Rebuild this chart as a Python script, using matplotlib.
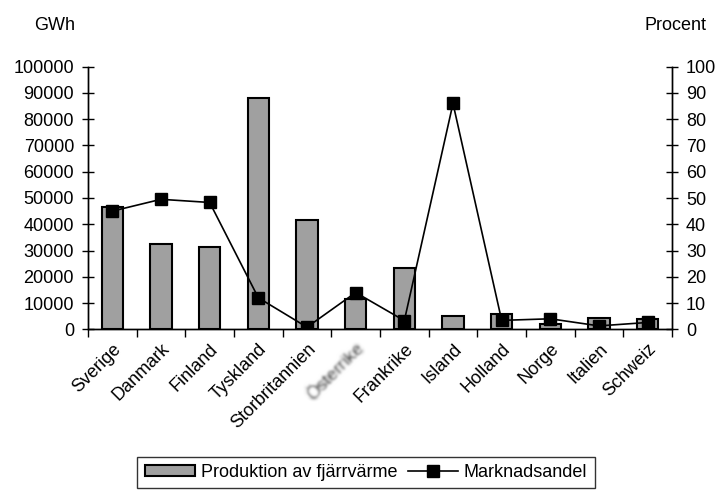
import matplotlib
matplotlib.use("Agg")
import matplotlib.pyplot as plt
import numpy as np

plt.rcParams['font.family'] = ['Liberation Sans', 'DejaVu Sans']
plt.rcParams['font.size'] = 13

countries = ['Sverige', 'Danmark', 'Finland', 'Tyskland', 'Storbritannien',
             'Österrike', 'Frankrike', 'Island', 'Holland', 'Norge',
             'Italien', 'Schweiz']
produktion_gwh = [46500, 32600, 31200, 88000, 41500, 11500,
                  23300, 5200, 5800, 1900, 4400, 3800]
marknadsandel = [45, 49.5, 48.3, 12, 0.8, 14, 3.3, 86, 3.4, 4, 1.3, 2.6]
gwh_ticks = list(range(0, 100001, 10000))
pct_ticks = list(range(0, 101, 10))


def gauss_blur(img, dpi, radius=1.6):
    # soft blur for a single text artist
    r = int(np.ceil(radius * 3))
    k = np.exp(-0.5 * (np.arange(-r, r + 1) / radius) ** 2)
    k /= k.sum()
    pad = np.pad(img, ((r * 2, r * 2), (r * 2, r * 2), (0, 0)))
    out = np.apply_along_axis(lambda m: np.convolve(m, k, mode='same'), 0, pad)
    out = np.apply_along_axis(lambda m: np.convolve(m, k, mode='same'), 1, out)
    out[..., 3] = np.clip(out[..., 3] * 1.3, 0, 1)
    return out, -r * 2, -r * 2


fig = plt.figure(figsize=(7.17, 4.9), dpi=100)
ax = fig.add_axes([88 / 717, 1 - 329.3 / 490, 584 / 717, 262.6 / 490])
ax2 = ax.twinx()

x = np.arange(len(countries))
bars = ax.bar(x, produktion_gwh, width=0.44, color='#a0a0a0',
              edgecolor='black', linewidth=1.5, label='Produktion av fjärrvärme')
line, = ax2.plot(x, marknadsandel, color='black', linewidth=1.2, marker='s',
                 markersize=8.5, label='Marknadsandel')

ax.set_xlim(-0.5, len(countries) - 0.5)
ax.set_ylim(0, 100000)
ax2.set_ylim(0, 100)
ax.set_yticks(gwh_ticks)
ax2.set_yticks(pct_ticks)

for a in (ax, ax2):
    a.spines['top'].set_visible(False)
    for s in a.spines.values():
        s.set_linewidth(1.0)
ax.tick_params(axis='y', direction='inout', length=8, width=1, pad=6)
ax2.tick_params(axis='y', direction='inout', length=8, width=1, pad=6)

# category ticks sit between the bars, labels under each bar
ax.set_xticks(np.arange(len(countries) + 1) - 0.5)
ax.set_xticklabels([])
ax.tick_params(axis='x', which='major', direction='out', length=6, width=1)
ax.set_xticks(x, minor=True)
ax.set_xticklabels(countries, minor=True, rotation=45, ha='right',
                   va='top', rotation_mode='anchor')
ax.tick_params(axis='x', which='minor', length=0, pad=8)

for lbl in ax.get_xticklabels(minor=True):
    if lbl.get_text() == 'Österrike':
        lbl.set_color('#333333')
        lbl.set_agg_filter(gauss_blur)

fig.text(55 / 717, 1 - 25 / 490, 'GWh', ha='center', va='center')
fig.text(675 / 717, 1 - 25 / 490, 'Procent', ha='center', va='center')

leg = fig.legend([bars, line], ['Produktion av fjärrvärme', 'Marknadsandel'],
                 loc='lower center', bbox_to_anchor=(366 / 717, 0.0), ncol=2,
                 frameon=True, fancybox=False, edgecolor='black',
                 handlelength=2.8, handleheight=0.5, columnspacing=0.6,
                 handletextpad=0.3, borderpad=0.4, borderaxespad=0.1)
leg.get_frame().set_linewidth(1.0)

fig.savefig('out.png', dpi=100)
